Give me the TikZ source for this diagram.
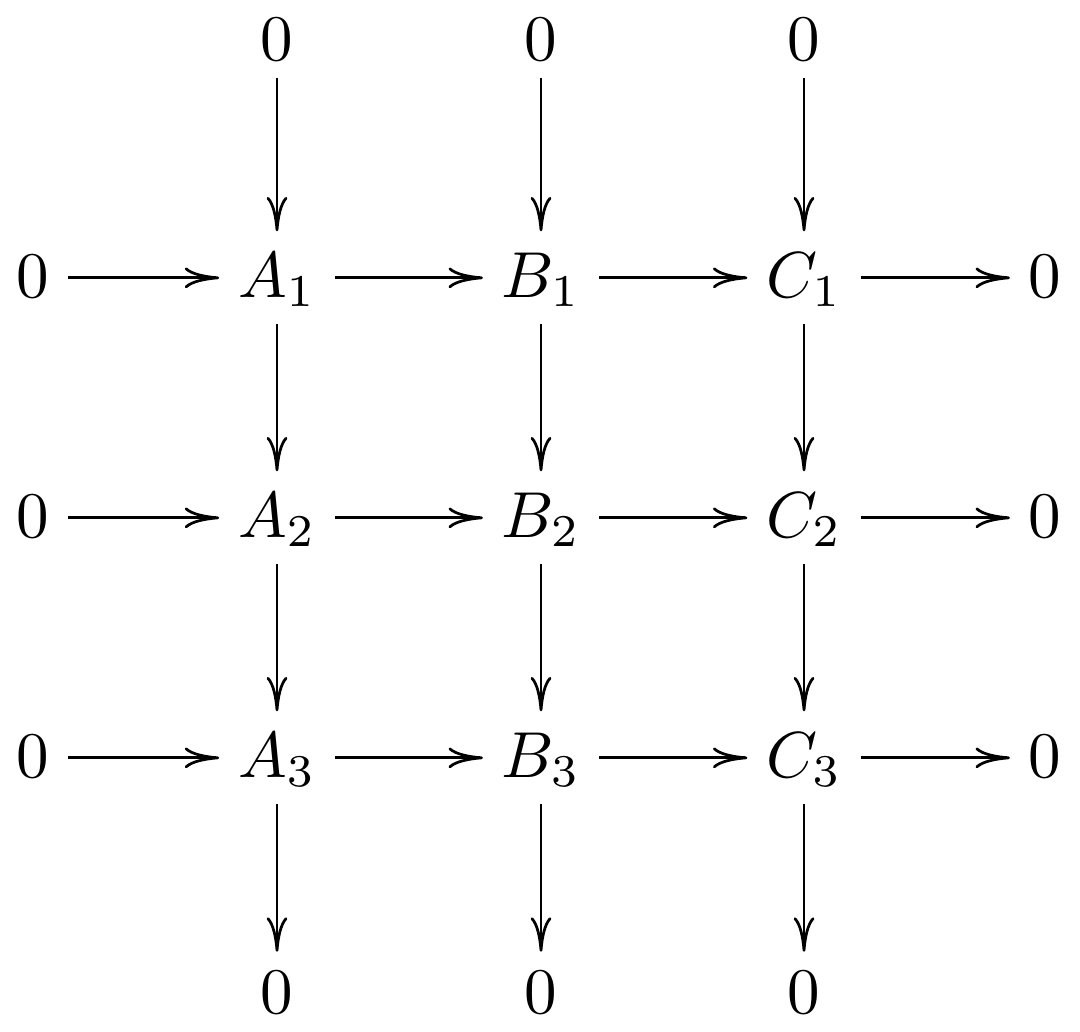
\documentclass[tikz,border=0pt]{standalone}
\usetikzlibrary{arrows.meta}
\begin{document}
\begin{tikzpicture}[x=0.15385pt,y=-0.15385pt,
  obj/.style={anchor=base,inner xsep=2.7pt,inner ysep=2.7pt,text height=7.2pt,text depth=1.3pt},
  zero/.style={anchor=base,inner xsep=2.7pt,inner ysep=2.4pt,text height=6.83pt,text depth=0pt},
  szero/.style={obj},
  arr/.style={line width=0.42pt,-{Computer Modern Rightarrow[length=5.3pt,width=3.2pt,line width=0.42pt]}}]
\useasboundingbox (0,0) rectangle (1080,1031);
% top zeros
\node[zero] (ta) at (277,61) {$0$};
\node[zero] (tb) at (541,61) {$0$};
\node[zero] (tc) at (804,61) {$0$};
% row 1
\node[szero] (l1) at (33,297) {$0$};
\node[obj] (a1) at (277,297) {$A_1$};
\node[obj] (b1) at (541,297) {$B_1$};
\node[obj] (c1) at (804,297) {$C_1$};
\node[szero] (r1) at (1045,297) {$0$};
% row 2
\node[szero] (l2) at (33,537) {$0$};
\node[obj] (a2) at (277,537) {$A_2$};
\node[obj] (b2) at (541,537) {$B_2$};
\node[obj] (c2) at (804,537) {$C_2$};
\node[szero] (r2) at (1045,537) {$0$};
% row 3
\node[szero] (l3) at (33,777) {$0$};
\node[obj] (a3) at (277,777) {$A_3$};
\node[obj] (b3) at (541,777) {$B_3$};
\node[obj] (c3) at (804,777) {$C_3$};
\node[szero] (r3) at (1045,777) {$0$};
% bottom zeros
\node[zero] (ba) at (277,1013) {$0$};
\node[zero] (bb) at (541,1013) {$0$};
\node[zero] (bc) at (804,1013) {$0$};
% horizontal arrows
\foreach \i in {1,2,3}{
  \draw[arr] (l\i) -- (a\i);
  \draw[arr] (a\i) -- (b\i);
  \draw[arr] (b\i) -- (c\i);
  \draw[arr] (c\i) -- (r\i);
}
% vertical arrows
\foreach \c in {a,b,c}{
  \draw[arr] (t\c) -- (\c1);
  \draw[arr] (\c1) -- (\c2);
  \draw[arr] (\c2) -- (\c3);
  \draw[arr] (\c3) -- (b\c);
}
\end{tikzpicture}
\end{document}
